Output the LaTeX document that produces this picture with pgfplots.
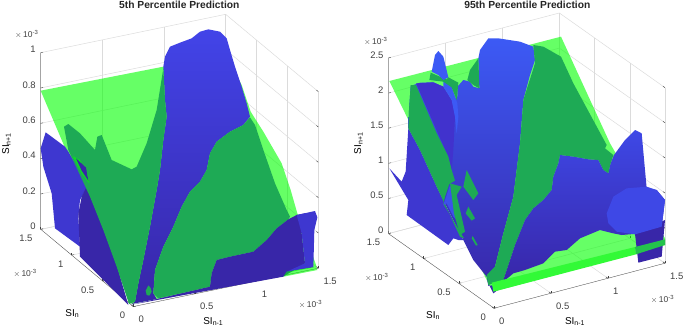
\documentclass[border=0pt]{standalone}
\usepackage{pgfplots}
\pgfplotsset{compat=1.18}
\usepackage{fontspec}
\setmainfont{Liberation Sans}
\definecolor{lg}{RGB}{0,255,0}
\definecolor{bb}{RGB}{66,68,232}
\definecolor{rb}{RGB}{60,90,245}
\definecolor{rc}{RGB}{62,72,230}
\definecolor{mb}{RGB}{62,55,208}
\definecolor{pb}{RGB}{65,50,205}
\definecolor{db}{RGB}{56,38,168}
\definecolor{dg}{RGB}{30,170,85}
\definecolor{bg}{RGB}{50,250,55}
\definecolor{tk}{RGB}{64,64,64}
\tikzset{sc/.style={font=\fontsize{8.5}{8.5}\selectfont,text=tk,inner sep=0pt,anchor=west}}
\pgfplotsset{
 box3d/.style={
  axis line style={draw=none},
  grid=major, grid style={black!14,line width=0.5pt},
  tick style={tk,line width=0.4pt},tick align=inside,major tick length=2.5bp,
  xtick pos=left,ytick pos=left,ztick pos=left,
  xtick={0,0.5,1,1.5},ytick={0,0.5,1,1.5},
  xticklabels={0,0.5,1,1.5},yticklabels={0,0.5,1,1.5},
  scaled ticks=false,
  xmin=0,xmax=1.5,ymin=0,ymax=1.5,zmin=0,
  ticklabel style={font=\fontsize{9.5}{9.5}\selectfont,text=tk,inner sep=0pt},
  label style={font=\fontsize{11.5}{11.5}\selectfont,text=black!85,inner sep=0pt},
  xticklabel style={anchor=west,xshift=5bp,yshift=-12.7bp},
  yticklabel style={anchor=east,xshift=-8bp,yshift=-9bp},
  zticklabel style={anchor=east,xshift=-4.7bp,yshift=3bp},
 },
 over/.style={scale only axis,hide axis,clip=false,ymin=0,ymax=993,y dir=reverse,height=331bp,anchor=south west},
 g/.style={draw=none,fill=lg,fill opacity=0.6},
 c/.style={draw=none,fill=#1},
}
\newcommand{\sca}{$\times$\,10\textsuperscript{-3}}
\begin{document}
\begin{tikzpicture}[x=1bp,y=1bp]
\useasboundingbox (0,0) rectangle (685,331);
% ------- left box
\begin{axis}[box3d,at={(133.33bp,24.33bp)},anchor=origin,
  x={(123.33bp,25.56bp)},y={(-61.78bp,51.56bp)},z={(0bp,176.67bp)},
  zmax=1,ztick={0,0.2,0.4,0.6,0.8,1},zticklabels={0,0.2,0.4,0.6,0.8,1},
  xlabel={SI\textsubscript{n-1}},ylabel={SI\textsubscript{n}},zlabel={SI\textsubscript{n+1}},
  every axis x label/.style={at={(axis cs:0,0,0)},anchor=center,xshift=80bp,yshift=-15bp},
  every axis y label/.style={at={(axis cs:0,0,0)},anchor=center,xshift=-61bp,yshift=-7bp},
  every axis z label/.style={at={(axis cs:0,0,0)},anchor=center,xshift=-127bp,yshift=163bp,rotate=90},
]
\addplot3[tk,line width=0.5pt] coordinates {(0,0,0)(1.5,0,0)};
\addplot3[tk,line width=0.5pt] coordinates {(0,0,0)(0,1.5,0)};
\addplot3[tk,line width=0.5pt] coordinates {(0,1.5,0)(0,1.5,1)};
\end{axis}
% ------- left surfaces (traced outlines, 3x image coordinates)
\begin{axis}[over,at={(0,0)},width=340bp,xmin=0,xmax=1020]
\addplot[g] coordinates {(122,272)(490,200)(677,162)(725,255)(752,335)(790,395)(845,490)(872,570)(892,640)(950,800)(395,912)} --cycle;
% left wing
\addplot[c=mb] coordinates {(122,445)(137,397)(195,440)(205,455)(245,525)(262,560)(240,600)(235,650)(240,740)(165,685)(155,580)(130,500)} --cycle;
\addplot[c=db] coordinates {(262,555)(300,640)(340,760)(385,915)(300,830)(240,770)(235,640)(245,590)} --cycle;
% central strip and lobe
\addplot[draw=none,top color=bb,bottom color=db] coordinates {(490,200)(495,170)(510,140)(540,128)(575,115)(600,95)(625,88)(660,95)(680,115)(690,150)(705,200)(725,260)(740,310)(750,350)(730,375)(690,395)(650,425)(630,460)(620,510)(600,545)(570,575)(545,620)(520,680)(490,740)(465,810)(460,880)(470,897)(395,912)(405,905)(415,850)(430,780)(450,680)(470,570)(480,510)(490,420)(500,350)(495,300)} --cycle;
% dark green left
\addplot[c=dg] coordinates {(490,205)(495,300)(500,350)(490,420)(480,510)(470,570)(450,680)(430,780)(415,850)(405,905)(387,912)(350,800)(310,690)(270,590)(240,525)(205,450)(192,380)(205,372)(240,400)(285,450)(292,410)(305,405)(335,480)(395,508)(410,500)(440,430)(470,330)} --cycle;
\addplot[g] coordinates {(218,468)(240,480)(262,520)(268,550)(245,520)} --cycle;
\addplot[c=db] coordinates {(228,475)(258,503)(265,542)(245,512)} --cycle;
% dark green right
\addplot[c=dg] coordinates {(750,352)(730,375)(690,395)(650,425)(630,460)(620,510)(600,545)(570,575)(545,620)(520,680)(490,740)(465,810)(460,880)(475,895)(630,860)(635,820)(650,780)(690,770)(760,755)(800,720)(830,685)(865,658)(870,650)(860,630)(825,550)(790,450)(765,375)} --cycle;
\addplot[c=dg] coordinates {(445,856)(452,864)(455,875)(448,887)(440,885)(437,872)} --cycle;
% dark lower right
\addplot[c=db] coordinates {(395,914)(470,897)(630,860)(635,820)(650,780)(690,770)(760,755)(800,720)(830,685)(865,658)(890,645)(915,640)(905,700)(915,790)(850,830)} --cycle;
\addplot[c=mb] coordinates {(890,645)(945,633)(952,652)(943,690)(940,802)(860,815)(915,790)(905,700)} --cycle;
\addplot[g] coordinates {(860,815)(948,800)(952,810)(850,830)} --cycle;
% title and scale notes
\node[sc] at (axis cs:45,103) {\sca};
\node[sc] at (axis cs:40,820) {\sca};
\node[sc] at (axis cs:896,912) {\sca};
\node[font=\bfseries\fontsize{10.3}{10.3}\selectfont,text=black!85] at (axis cs:538,15) {5th Percentile Prediction};
\end{axis}
% ------- right box
\begin{axis}[box3d,at={(494bp,22.67bp)},anchor=origin,
  x={(114bp,30bp)},y={(-70.44bp,49.78bp)},z={(0bp,70.27bp)},
  zmax=2.5,ztick={0,0.5,1,1.5,2,2.5},zticklabels={0,0.5,1,1.5,2,2.5},
  xlabel={SI\textsubscript{n-1}},ylabel={SI\textsubscript{n}},zlabel={SI\textsubscript{n+1}},
  every axis x label/.style={at={(axis cs:0,0,0)},anchor=center,xshift=81bp,yshift=-13bp},
  every axis y label/.style={at={(axis cs:0,0,0)},anchor=center,xshift=-61bp,yshift=-7bp},
  every axis z label/.style={at={(axis cs:0,0,0)},anchor=center,xshift=-135.7bp,yshift=165bp,rotate=90},
]
\addplot3[tk,line width=0.5pt] coordinates {(0,0,0)(1.5,0,0)};
\addplot3[tk,line width=0.5pt] coordinates {(0,0,0)(0,1.5,0)};
\addplot3[black!45,line width=1.1pt] coordinates {(0,1.5,0)(0,1.5,2.5)};
\end{axis}
% ------- right surfaces
\begin{axis}[over,at={(340bp,0)},width=345bp,xmin=0,xmax=1035]
\addplot[g] coordinates {(148,243)(663,110)(810,430)(975,715)(975,735)(460,875)(445,850)} --cycle;
% left wing
\addplot[c=mb] coordinates {(148,505)(185,545)(197,515)(205,385)(240,450)(290,560)(370,720)(355,720)(340,715)(325,735)(200,645)(205,600)} --cycle;
% big central blue
\addplot[draw=none,top color=rb,middle color=mb,bottom color=db] coordinates {(205,385)(207,330)(212,258)(240,248)(280,247)(310,260)(335,300)(352,290)(352,260)(370,240)(390,245)(400,260)(418,265)(415,175)(420,150)(445,115)(475,115)(540,125)(580,140)(585,180)(570,225)(550,300)(540,430)(520,590)(490,700)(465,800)(445,830)(445,850)(460,880)(480,865)(490,850)(445,858)(440,830)(400,780)(370,720)(290,560)(240,450)} --cycle;
\addplot[c=pb] coordinates {(228,250)(280,247)(310,260)(335,300)(345,350)(340,450)(335,510)(325,470)} --cycle;
\addplot[c=rb] coordinates {(310,240)(335,260)(352,310)(355,350)(350,400)(345,350)(335,300)(310,260)} --cycle;
% top-left small lobe and patches
\addplot[c=dg] coordinates {(272,218)(295,228)(320,238)(325,232)(355,248)(350,300)(335,262)(310,245)(268,240)} --cycle;
\addplot[c=rb] coordinates {(275,215)(285,165)(295,153)(310,170)(325,232)(310,240)(295,225)} --cycle;
\addplot[c=dg] coordinates {(415,175)(390,210)(382,240)(400,255)(418,265)} --cycle;
% diagonal band
\addplot[c=dg] coordinates {(212,255)(228,255)(290,400)(325,470)(335,510)(345,542)(328,552)(315,590)(310,612)(345,670)(372,715)(360,710)(290,560)(240,450)(205,385)(207,330)} --cycle;
\addplot[c=rb!70!mb] coordinates {(310,615)(330,555)(342,580)(352,660)(340,650)(320,610)} --cycle;
\addplot[c=dg] coordinates {(330,550)(365,560)(350,585)(375,695)(360,705)(342,640)} --cycle;
\addplot[c=dg] coordinates {(380,510)(415,580)(400,600)(370,560)} --cycle;
\addplot[c=dg] coordinates {(385,620)(405,655)(395,662)(377,640)} --cycle;
\addplot[c=dg] coordinates {(398,708)(413,735)(408,737)(395,715)} --cycle;
% dark green central
\addplot[c=dg] coordinates {(580,135)(610,140)(663,170)(700,250)(800,435)(795,445)(820,465)(812,490)(805,520)(790,510)(775,480)(745,478)(700,470)(660,465)(655,490)(640,530)(635,570)(610,600)(580,625)(555,660)(525,735)(490,840)(445,855)(440,825)(465,800)(490,700)(520,590)(540,430)(550,300)(585,190)} --cycle;
% right blue
\addplot[draw=none,top color=rc,bottom color=db] coordinates {(490,840)(525,735)(555,660)(580,625)(610,600)(635,570)(640,530)(655,490)(660,465)(700,470)(745,478)(775,480)(790,510)(805,520)(812,490)(822,465)(855,420)(885,390)(905,400)(920,565)(950,570)(975,600)(965,680)(880,702)(845,705)(820,700)(780,690)(720,715)(680,750)(645,755)(610,790)(555,810)(520,820)(490,845)} --cycle;
\addplot[c=db] coordinates {(885,702)(975,660)(965,770)(895,788)} --cycle;
\addplot[c=rc] coordinates {(800,640)(820,590)(860,565)(920,560)(950,570)(975,600)(965,680)(885,703)(830,695)(805,670)} --cycle;
% bright band
\addplot[draw=none,fill=bg] coordinates {(455,848)(885,741)(888,763)(460,875)} --cycle;
\addplot[draw=none,fill=dg!70!bg] coordinates {(885,741)(975,718)(975,735)(888,763)} --cycle;
\node[sc] at (axis cs:72,123) {\sca};
\node[sc] at (axis cs:75,832) {\sca};
\node[sc] at (axis cs:932,897) {\sca};
\node[font=\bfseries\fontsize{10.3}{10.3}\selectfont,text=black!85] at (axis cs:562,15) {95th Percentile Prediction};
\end{axis}
\end{tikzpicture}
\end{document}
